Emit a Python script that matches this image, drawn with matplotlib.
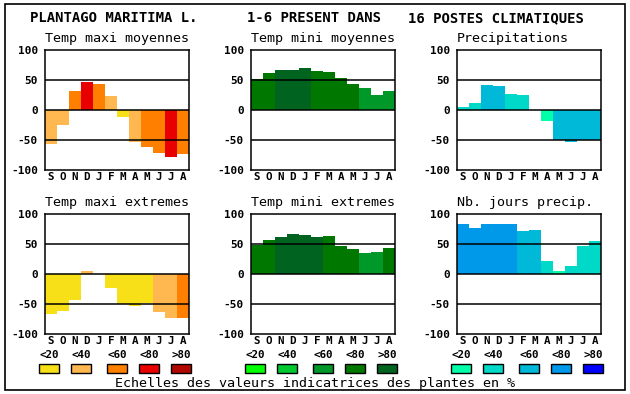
import numpy as np
import matplotlib
matplotlib.use('Agg')
import matplotlib.pyplot as plt
from matplotlib.patches import Rectangle

W, H = 630, 394

months = ['S', 'O', 'N', 'D', 'J', 'F', 'M', 'A', 'M', 'J', 'J', 'A']
scale_labels = ['<20', '<40', '<60', '<80', '>80']

warm_colors = ['#f8e018', '#ffb850', '#ff8000', '#e80000', '#b00800']
green_colors = ['#00ff00', '#00c830', '#009828', '#007800', '#006420']
blue_colors = ['#00ffa8', '#00d8c8', '#00b8d8', '#0098e8', '#0000ff']

# values (signed) and colour class (0..4) per month
tmax_moy = [-56, -25, 32, 47, 43, 23, -12, -53, -61, -71, -78, -73]
tmax_moy_cls = [1, 1, 2, 3, 2, 1, 0, 1, 2, 2, 3, 2]

tmin_moy = [52, 62, 67, 67, 70, 65, 63, 53, 43, 37, 25, 32]
tmin_moy_cls = [3, 3, 4, 4, 4, 3, 3, 3, 3, 2, 2, 2]

precip = [5, 12, 42, 40, 27, 25, 0, -18, -50, -54, -50, -50]
precip_cls = [1, 1, 2, 2, 1, 1, 1, 0, 2, 2, 2, 2]

tmax_ext = [-66, -61, -43, 5, 0, -24, -50, -54, -49, -64, -73, -74]
tmax_ext_cls = [0, 0, 0, 1, 0, 0, 0, 0, 0, 1, 1, 2]

tmin_ext = [49, 57, 62, 67, 65, 62, 63, 47, 42, 35, 37, 43]
tmin_ext_cls = [3, 3, 4, 4, 4, 4, 3, 3, 3, 2, 2, 3]

nb_jours = [83, 77, 83, 83, 83, 72, 73, 22, 5, 13, 47, 55]
nb_jours_cls = [3, 3, 3, 3, 3, 2, 2, 1, 0, 1, 1, 1]

panels = [
    ('Temp maxi moyennes', tmax_moy, tmax_moy_cls, warm_colors, 45, 50),
    ('Temp mini moyennes', tmin_moy, tmin_moy_cls, green_colors, 251, 50),
    ('Precipitations', precip, precip_cls, blue_colors, 457, 50),
    ('Temp maxi extremes', tmax_ext, tmax_ext_cls, warm_colors, 45, 214),
    ('Temp mini extremes', tmin_ext, tmin_ext_cls, green_colors, 251, 214),
    ('Nb. jours precip.', nb_jours, nb_jours_cls, blue_colors, 457, 214),
]

plt.rcParams['font.family'] = ['DejaVu Sans Mono']

fig = plt.figure(figsize=(W / 100, H / 100), dpi=100)


def fx(px):
    return px / W


def fy(py):
    return 1 - py / H


# outer frame
fig.patches.append(Rectangle((fx(4.5), fy(390)), fx(620.5), (390 - 4) / H,
                             transform=fig.transFigure, fill=False,
                             edgecolor='black', lw=1.2))

fig.text(fx(30), fy(18), 'PLANTAGO MARITIMA L.', fontsize=10, fontweight='bold',
         va='center', ha='left')
fig.text(fx(247), fy(18), '1-6 PRESENT DANS', fontsize=10, fontweight='bold',
         va='center', ha='left')
fig.text(fx(408), fy(18), '16 POSTES CLIMATIQUES', fontsize=10, fontweight='bold',
         va='center', ha='left')

for title, vals, cls, cols, x0, y0 in panels:
    ax = fig.add_axes([fx(x0), fy(y0 + 120), 144 / W, 120 / H])
    x = np.arange(12)
    ax.bar(x, vals, width=1.0, align='edge', color=[cols[c] for c in cls],
           edgecolor='none', zorder=1)
    for yl in (-50, 0, 50):
        ax.axhline(yl, color='black', lw=1.1, zorder=2)
    ax.set_xlim(0, 12)
    ax.set_ylim(-100, 100)
    ax.set_yticks([-100, -50, 0, 50, 100])
    ax.set_yticklabels(['-100', '-50', '0', '50', '100'], fontsize=8,
                       fontweight='bold')
    ax.set_xticks(x + 0.5)
    ax.set_xticklabels(months, fontsize=7.8, fontweight='bold')
    ax.tick_params(length=0, pad=5)
    ax.tick_params(axis='x', pad=1.5)
    for s in ax.spines.values():
        s.set_linewidth(1.1)
    ax.text(0, 1.04, title, transform=ax.transAxes, fontsize=9.6,
            ha='left', va='bottom')

# colour scales
legend_groups = [
    (warm_colors, [39, 71, 107, 139, 171]),
    (green_colors, [245, 277, 313, 345, 377]),
    (blue_colors, [451, 483, 519, 551, 583]),
]
for cols, xs in legend_groups:
    for c, lab, xb in zip(cols, scale_labels, xs):
        fig.patches.append(Rectangle((fx(xb), fy(373)), 20 / W, 9 / H,
                                     transform=fig.transFigure,
                                     facecolor=c, edgecolor='black', lw=1))
        fig.text(fx(xb + 10), fy(355), lab, fontsize=7.8, fontweight='bold',
                 ha='center', va='center')

fig.text(fx(315), fy(383), 'Echelles des valeurs indicatrices des plantes en %',
         fontsize=9.6, ha='center', va='center')

fig.savefig('out.png', dpi=100)
